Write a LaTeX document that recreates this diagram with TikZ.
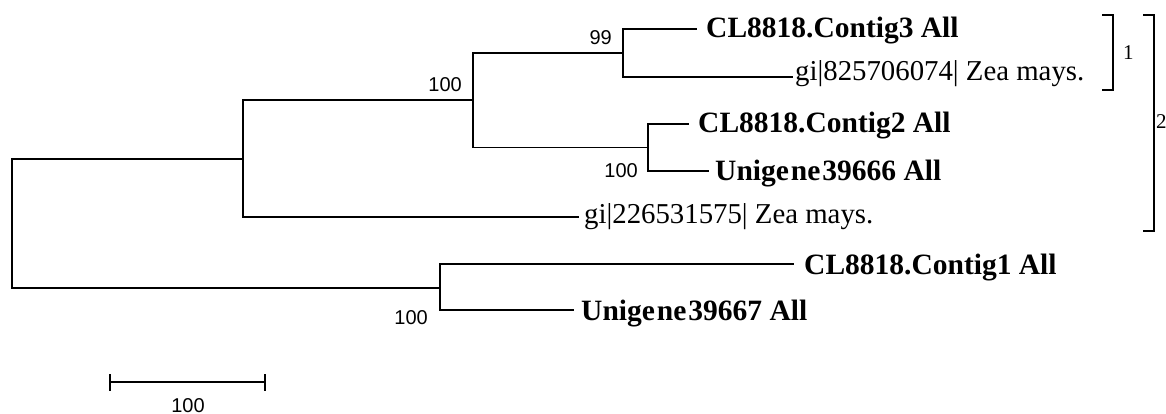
\documentclass[tikz,border=0pt]{standalone}
\usepackage{fontspec}
\setmainfont{Liberation Serif}
\newfontfamily\arialf{Liberation Sans}
\tikzset{
  br/.style={line width=1.5pt, line cap=rect},
  boldleaf/.style={anchor=base west, inner sep=0pt, font=\fontsize{29.5}{32}\selectfont\bfseries},
  plainleaf/.style={anchor=base west, inner sep=0pt, font=\fontsize{28.8}{31}\selectfont},
  boot/.style={anchor=base east, inner sep=0pt, font=\arialf\fontsize{20}{22}\selectfont},
  bracketlbl/.style={anchor=west, inner sep=0pt, font=\fontsize{21}{23}\selectfont},
}
\begin{document}
\begin{tikzpicture}[x=1pt,y=-1pt]
\useasboundingbox (0,0) rectangle (1166,414);
% internal nodes
\coordinate (R) at (12,223.5);
\coordinate (A) at (243,159);
\coordinate (B) at (473,100);
\coordinate (N99) at (623,53);
\coordinate (C) at (648,147.5);
\coordinate (D) at (440,288);
% leaf tips
\coordinate (t1) at (696,29);
\coordinate (t2) at (792,77);
\coordinate (t3) at (688,124);
\coordinate (t4) at (708,171);
\coordinate (t5) at (578,217);
\coordinate (t6) at (793,264);
\coordinate (t7) at (573,310);
% branches
\draw[br] (R) |- (A);
\draw[br] (R) |- (D);
\draw[br] (A) |- (B);
\draw[br] (A) |- (t5);
\draw[br] (B) |- (N99);
\draw[br] (B) |- (C);
\draw[br] (N99) |- (t1);
\draw[br] (N99) |- (t2);
\draw[br] (C) |- (t3);
\draw[br] (C) |- (t4);
\draw[br] (D) |- (t6);
\draw[br] (D) |- (t7);
% leaf labels
\node[boldleaf] (l1) at (706,38) {CL8818.Contig3 All};
\node[plainleaf] (l2) at (795,81) {gi|825706074| Zea mays.};
\node[boldleaf] (l3) at (698,133) {CL8818.Contig2 All};
\node[boldleaf] (l4) at (715,180) {Unige\kern2pt ne\kern2pt 39666 All};
\node[plainleaf] (l5) at (584,223) {gi|226531575| Zea mays.};
\node[boldleaf] (l6) at (804,274) {CL8818.Contig1 All};
\node[boldleaf] (l7) at (581,320) {Unige\kern2pt ne\kern2pt 39667 All};
% bootstrap values
\node[boot] (b99) at (612,45) {99};
\node[boot] (bB) at (462,92) {100};
\node[boot] (bC) at (638,178) {100};
\node[boot] (bD) at (428,324) {100};
% scale bar
\coordinate (s1) at (110,382);
\coordinate (s2) at (265,382);
\draw[line width=1.5pt] (s1) -- (s2);
\draw[line width=1.5pt] ([yshift=-8.5pt]s1) -- ([yshift=8.5pt]s1);
\draw[line width=1.5pt] ([yshift=-8.5pt]s2) -- ([yshift=8.5pt]s2);
\node[anchor=base, inner sep=0pt, font=\arialf\fontsize{20}{22}\selectfont] (sl) at (188,412) {100};
% clade brackets
\coordinate (k1a) at (1102,15);
\coordinate (k1b) at (1102,90);
\draw[br, line cap=butt] (k1a) -- ++(11,0) |- (k1b);
\node[bracketlbl] (k1) at (1123,53) {1};
\coordinate (k2a) at (1143,15);
\coordinate (k2b) at (1143,231);
\draw[br, line cap=butt] (k2a) -- ++(11,0) |- (k2b);
\node[bracketlbl] (k2) at (1156,122) {2};
\end{tikzpicture}
\end{document}
